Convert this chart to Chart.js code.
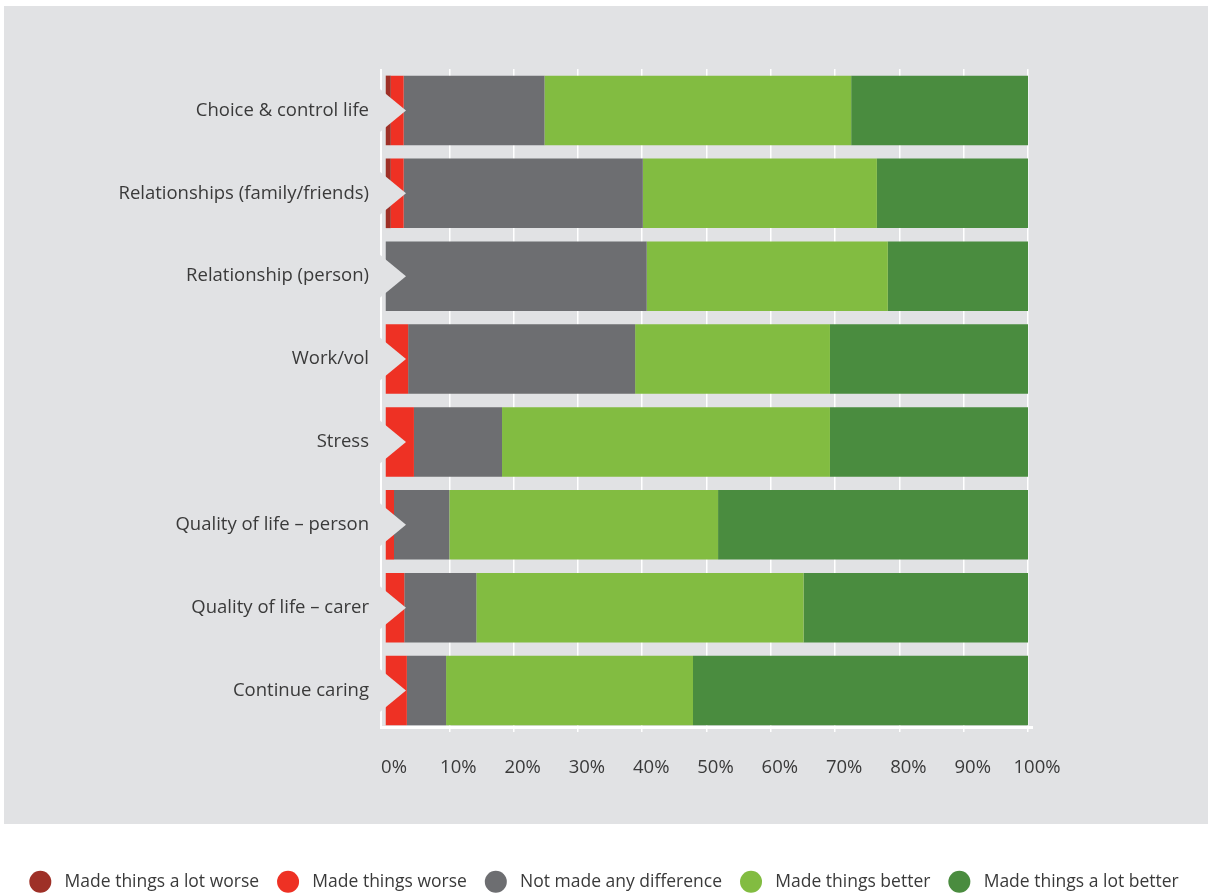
<!DOCTYPE html>
<html>
<head>
<meta charset="utf-8">
<script src="https://cdn.jsdelivr.net/npm/chart.js@4.4.1/dist/chart.umd.min.js"></script>
<style>
  html, body { margin: 0; padding: 0; background: #ffffff; overflow: hidden; }
  #impactChart { display: block; }
</style>
</head>
<body>
<canvas id="impactChart" width="1208" height="905"></canvas>
<script>
// categorias y porcentajes por respuesta
const categorias = [
    'Choice & control life',
    'Relationships (family/friends)',
    'Relationship (person)',
    'Work/vol',
    'Stress',
    'Quality of life – person',
    'Quality of life – carer',
    'Continue caring'
];
const muchoPeor = [0.9, 0.9, 0, 0, 0, 0, 0, 0];
const peor = [2.0, 2.0, 0, 3.6, 4.5, 1.4, 3.0, 3.4];
const sinDiferencia = [21.9, 37.2, 40.7, 35.3, 13.7, 8.6, 11.2, 6.1];
const mejor = [47.7, 36.4, 37.5, 30.3, 51.0, 41.8, 50.9, 38.4];
const muchoMejor = [27.5, 23.5, 21.8, 30.8, 30.8, 48.2, 34.9, 52.1];
const ticksX = [0, 10, 20, 30, 40, 50, 60, 70, 80, 90, 100];

const fondoPanel = '#e1e2e4';
const textoColor = '#3a3a3a';
const familia = '"Open Sans", "Noto Sans", sans-serif';
const fuente = { family: familia, size: 18.5 };

// panel gris detras del grafico
const panelFondo = {
    id: 'panelFondo',
    beforeDraw(chart) {
        const ctx = chart.ctx;
        ctx.save();
        ctx.fillStyle = fondoPanel;
        ctx.fillRect(4, 6, chart.width - 4, 818);
        ctx.restore();
    }
};

// muescas en el inicio de cada barra y lineas blancas del eje
const muescas = {
    id: 'muescas',
    afterDraw(chart) {
        const ctx = chart.ctx;
        const area = chart.chartArea;
        const meta = chart.getDatasetMeta(0);
        ctx.save();
        ctx.fillStyle = '#ffffff';
        ctx.fillRect(area.left - 5, area.top, 2, area.bottom - area.top - 3);
        ctx.fillRect(area.left - 5, area.bottom - 6, area.right - area.left + 10, 3);
        ctx.fillStyle = fondoPanel;
        meta.data.forEach(bar => {
            const h = bar.height * 0.32;
            ctx.beginPath();
            ctx.moveTo(area.left - 6, bar.y - h);
            ctx.lineTo(area.left + 21, bar.y);
            ctx.lineTo(area.left - 6, bar.y + h);
            ctx.closePath();
            ctx.fill();
        });
        ctx.restore();
    }
};

const ctx = document.getElementById('impactChart').getContext('2d');
new Chart(ctx, {
    type: 'bar',
    data: {
        labels: categorias,
        datasets: [{
            label: 'Made things a lot worse',
            data: muchoPeor,
            backgroundColor: '#9e3027'
        }, {
            label: 'Made things worse',
            data: peor,
            backgroundColor: '#ee3124'
        }, {
            label: 'Not made any difference',
            data: sinDiferencia,
            backgroundColor: '#6d6e71'
        }, {
            label: 'Made things better',
            data: mejor,
            backgroundColor: '#82bc41'
        }, {
            label: 'Made things a lot better',
            data: muchoMejor,
            backgroundColor: '#4a8c3f'
        }]
    },
    options: {
        indexAxis: 'y',
        responsive: false,
        animation: false,
        datasets: {
            bar: {
                categoryPercentage: 1,
                barPercentage: 0.84,
                borderWidth: 0
            }
        },
        layout: {
            padding: { left: 0, right: 0, top: 69, bottom: 4.5 }
        },
        scales: {
            x: {
                stacked: true,
                min: 0,
                max: 100,
                z: 1,
                afterBuildTicks: scale => {
                    scale.ticks = ticksX.map(v => ({ value: v }));
                },
                afterFit: scale => {
                    scale.height = 123;
                },
                grid: {
                    color: c => c.tick && c.tick.value === 0 ? 'rgba(0,0,0,0)' : '#ffffff',
                    lineWidth: 1.5,
                    drawTicks: false
                },
                border: { display: false },
                ticks: {
                    callback: v => v + '%',
                    labelOffset: 9,
                    padding: 25,
                    color: textoColor,
                    font: fuente,
                    maxRotation: 0
                }
            },
            y: {
                stacked: true,
                afterFit: scale => {
                    scale.width = 385;
                },
                grid: { display: false, drawTicks: false },
                border: { display: false },
                ticks: {
                    padding: 16,
                    color: textoColor,
                    font: fuente
                }
            },
            // margen derecho vacio junto al grafico
            margenDerecho: {
                type: 'category',
                axis: 'y',
                position: 'right',
                afterFit: scale => {
                    scale.width = 180;
                },
                grid: { display: false, drawTicks: false },
                border: { display: false },
                ticks: { display: false }
            }
        },
        plugins: {
            legend: {
                position: 'bottom',
                labels: {
                    usePointStyle: true,
                    pointStyle: 'circle',
                    pointStyleWidth: 22,
                    boxHeight: 15.56,
                    padding: 18,
                    color: textoColor,
                    font: { family: familia, size: 17.5 },
                    generateLabels: chart => Chart.defaults.plugins.legend.labels.generateLabels(chart)
                        .map(item => Object.assign(item, { text: ' ' + item.text, lineWidth: 0 }))
                }
            },
            tooltip: { enabled: false }
        }
    },
    plugins: [panelFondo, muescas]
});
</script>
</body>
</html>
